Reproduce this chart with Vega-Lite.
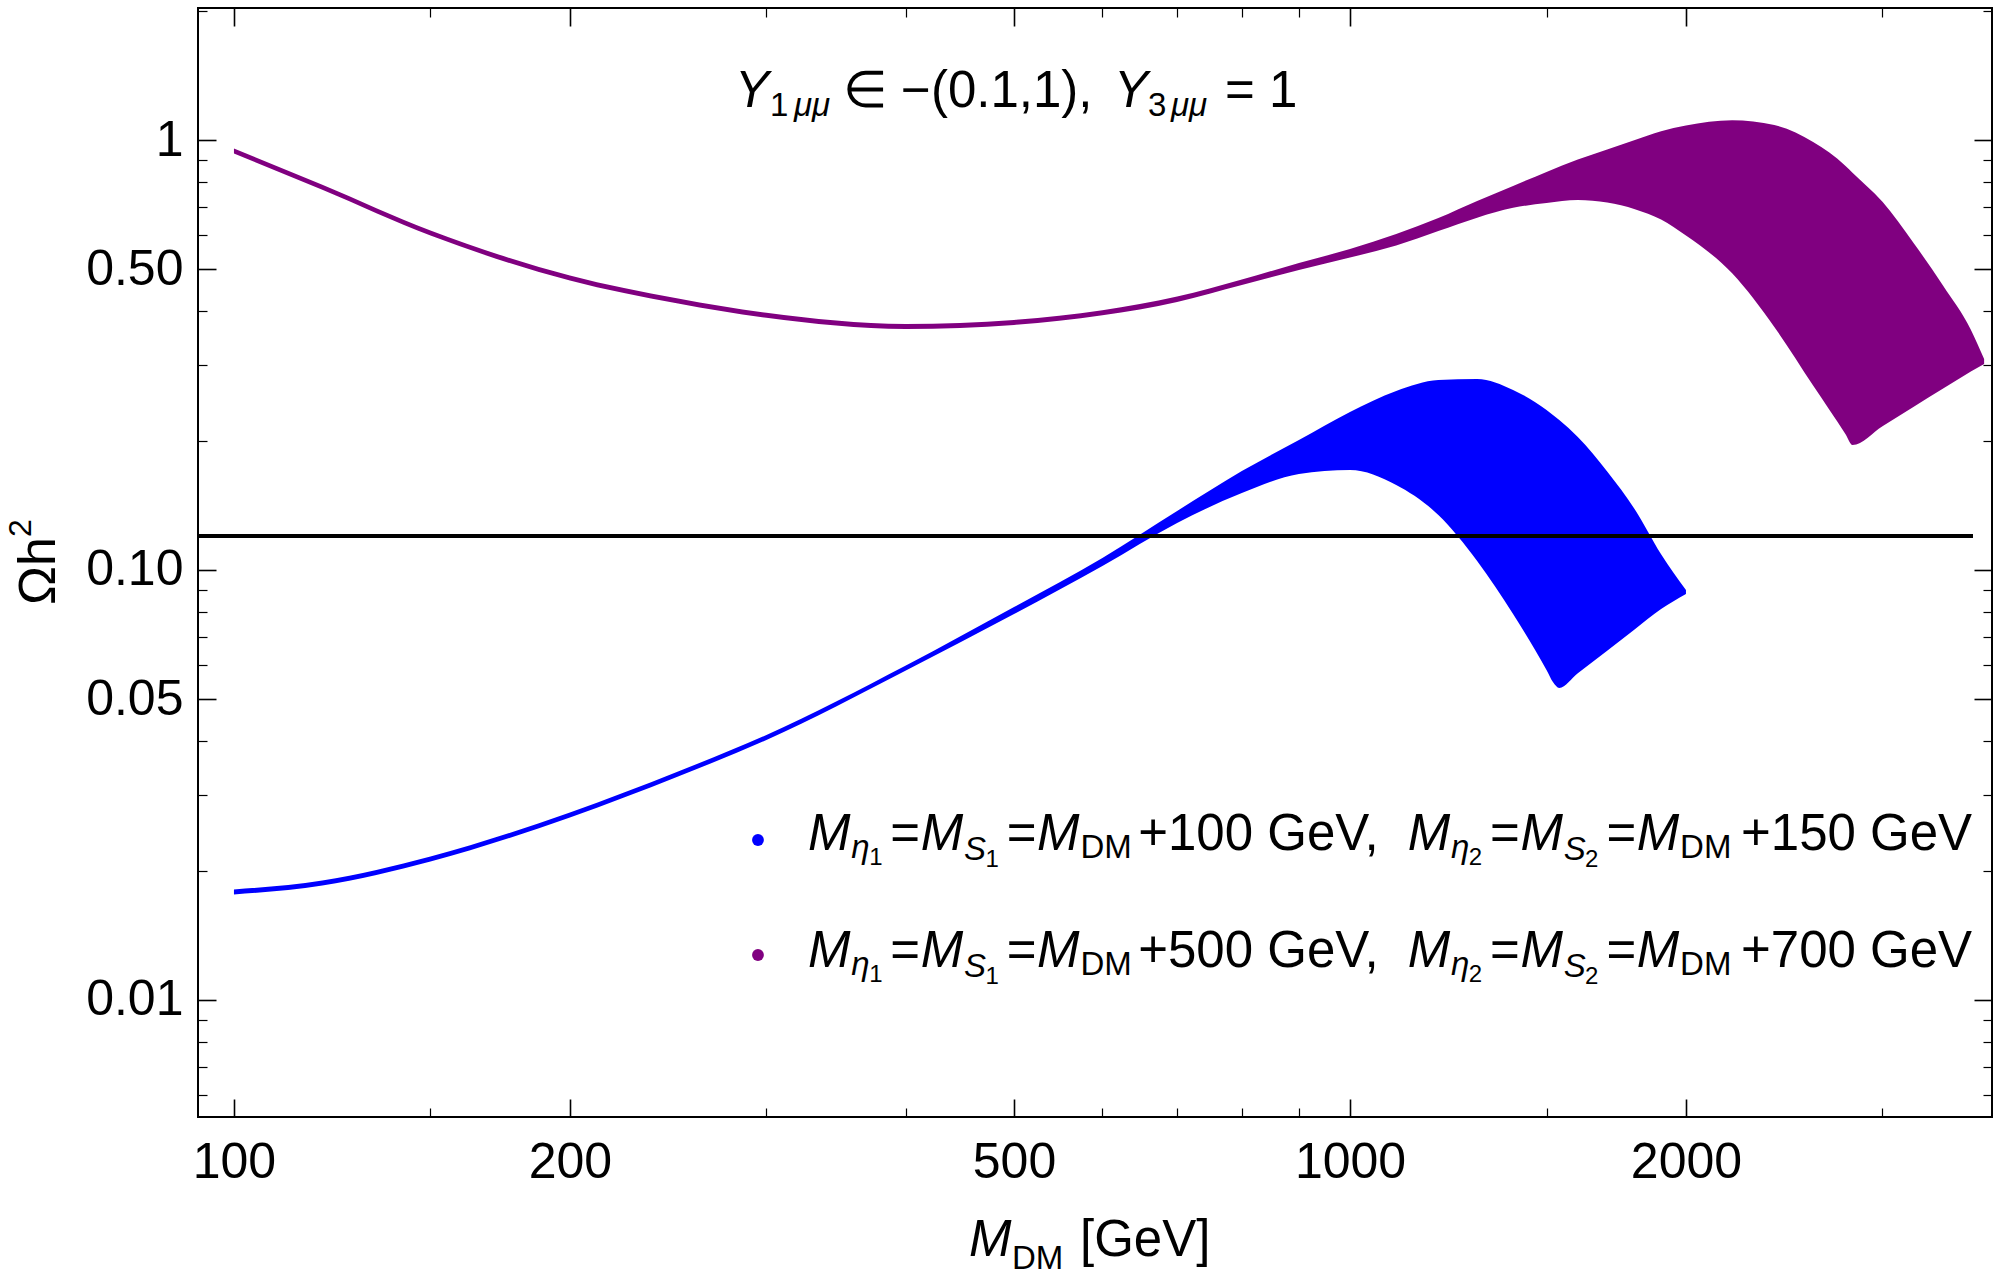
{
  "$schema": "https://vega.github.io/schema/vega-lite/v6.json",
  "description": "Relic density vs dark matter mass for two mass splittings.",
  "width": 1794,
  "height": 1109,
  "autosize": {"type": "none"},
  "padding": {"left": 198, "top": 8, "right": 9, "bottom": 159},
  "background": "white",
  "datasets": {
    "bands": [
      {"s": "dM100", "M": 100, "lo": 0.017592, "hi": 0.018068},
      {"s": "dM100", "M": 120, "lo": 0.018462, "hi": 0.018962},
      {"s": "dM100", "M": 150, "lo": 0.020995, "hi": 0.021565},
      {"s": "dM100", "M": 200, "lo": 0.026573, "hi": 0.027295},
      {"s": "dM100", "M": 250, "lo": 0.033096, "hi": 0.033994},
      {"s": "dM100", "M": 300, "lo": 0.040236, "hi": 0.041328},
      {"s": "dM100", "M": 400, "lo": 0.058392, "hi": 0.059973},
      {"s": "dM100", "M": 500, "lo": 0.0790, "hi": 0.0820},
      {"s": "dM100", "M": 600, "lo": 0.10216, "hi": 0.10664},
      {"s": "dM100", "M": 700, "lo": 0.12860, "hi": 0.13716},
      {"s": "dM100", "M": 800, "lo": 0.15103, "hi": 0.16990},
      {"s": "dM100", "M": 900, "lo": 0.16720, "hi": 0.20061},
      {"s": "dM100", "M": 1000, "lo": 0.17082, "hi": 0.23305},
      {"s": "dM100", "M": 1100, "lo": 0.15763, "hi": 0.26080},
      {"s": "dM100", "M": 1200, "lo": 0.13425, "hi": 0.27660},
      {"s": "dM100", "M": 1300, "lo": 0.10494, "hi": 0.27809},
      {"s": "dM100", "M": 1400, "lo": 0.07900, "hi": 0.26220},
      {"s": "dM100", "M": 1500, "lo": 0.058548, "hi": 0.23556},
      {"s": "dM100", "M": 1520, "lo": 0.054898, "hi": 0.22947},
      {"s": "dM100", "M": 1540, "lo": 0.053170, "hi": 0.22330},
      {"s": "dM100", "M": 1600, "lo": 0.057491, "hi": 0.20386},
      {"s": "dM100", "M": 1700, "lo": 0.064912, "hi": 0.16937},
      {"s": "dM100", "M": 1800, "lo": 0.072806, "hi": 0.13820},
      {"s": "dM100", "M": 1900, "lo": 0.081122, "hi": 0.10877},
      {"s": "dM100", "M": 2000, "lo": 0.087952, "hi": 0.089856},
      {"s": "dM500", "M": 100, "lo": 0.93027, "hi": 0.95550},
      {"s": "dM500", "M": 120, "lo": 0.76628, "hi": 0.78708},
      {"s": "dM500", "M": 150, "lo": 0.59973, "hi": 0.61596},
      {"s": "dM500", "M": 200, "lo": 0.47130, "hi": 0.48407},
      {"s": "dM500", "M": 250, "lo": 0.41661, "hi": 0.42795},
      {"s": "dM500", "M": 300, "lo": 0.38591, "hi": 0.39638},
      {"s": "dM500", "M": 400, "lo": 0.36350, "hi": 0.37336},
      {"s": "dM500", "M": 500, "lo": 0.37154, "hi": 0.38160},
      {"s": "dM500", "M": 600, "lo": 0.39112, "hi": 0.40172},
      {"s": "dM500", "M": 700, "lo": 0.42003, "hi": 0.43256},
      {"s": "dM500", "M": 800, "lo": 0.45999, "hi": 0.47382},
      {"s": "dM500", "M": 900, "lo": 0.49845, "hi": 0.51738},
      {"s": "dM500", "M": 1000, "lo": 0.53284, "hi": 0.55788},
      {"s": "dM500", "M": 1100, "lo": 0.56818, "hi": 0.60448},
      {"s": "dM500", "M": 1200, "lo": 0.61400, "hi": 0.65872},
      {"s": "dM500", "M": 1300, "lo": 0.65961, "hi": 0.72184},
      {"s": "dM500", "M": 1400, "lo": 0.69530, "hi": 0.78205},
      {"s": "dM500", "M": 1500, "lo": 0.71377, "hi": 0.84262},
      {"s": "dM500", "M": 1600, "lo": 0.72534, "hi": 0.90031},
      {"s": "dM500", "M": 1700, "lo": 0.71531, "hi": 0.94990},
      {"s": "dM500", "M": 1800, "lo": 0.69048, "hi": 1.0},
      {"s": "dM500", "M": 1900, "lo": 0.65294, "hi": 1.0477},
      {"s": "dM500", "M": 2000, "lo": 0.59940, "hi": 1.0801},
      {"s": "dM500", "M": 2200, "lo": 0.48978, "hi": 1.1112},
      {"s": "dM500", "M": 2400, "lo": 0.36741, "hi": 1.0835},
      {"s": "dM500", "M": 2600, "lo": 0.26860, "hi": 0.98935},
      {"s": "dM500", "M": 2780, "lo": 0.20694, "hi": 0.87047},
      {"s": "dM500", "M": 2820, "lo": 0.19532, "hi": 0.83946},
      {"s": "dM500", "M": 3000, "lo": 0.21600, "hi": 0.71838},
      {"s": "dM500", "M": 3200, "lo": 0.23963, "hi": 0.57544},
      {"s": "dM500", "M": 3400, "lo": 0.26418, "hi": 0.45827},
      {"s": "dM500", "M": 3600, "lo": 0.28950, "hi": 0.36214},
      {"s": "dM500", "M": 3700, "lo": 0.30136, "hi": 0.30951}
    ],
    "planck": [{"M0": 90, "M1": 3616, "v": 0.12}],
    "keys": [
      {"s": "dM100", "M": 294.8, "v": 0.023556},
      {"s": "dM500", "M": 294.8, "v": 0.012724}
    ],
    "italicMain": [
      {"M": 281.1, "v": 1.1953, "t": "Y"},
      {"M": 614.5, "v": 1.1953, "t": "Y"},
      {"M": 326.84, "v": 0.02233, "t": "M"},
      {"M": 412.5, "v": 0.02233, "t": "M"},
      {"M": 524.3, "v": 0.02233, "t": "M"},
      {"M": 1126.4, "v": 0.02233, "t": "M"},
      {"M": 1421.6, "v": 0.02233, "t": "M"},
      {"M": 1807.1, "v": 0.02233, "t": "M"},
      {"M": 326.84, "v": 0.011934, "t": "M"},
      {"M": 412.5, "v": 0.011934, "t": "M"},
      {"M": 524.3, "v": 0.011934, "t": "M"},
      {"M": 1126.4, "v": 0.011934, "t": "M"},
      {"M": 1421.6, "v": 0.011934, "t": "M"},
      {"M": 1807.1, "v": 0.011934, "t": "M"},
      {"M": 455.6, "v": 0.0025389, "t": "M"}
    ],
    "normalMain": [
      {"M": 351.3, "v": 1.1953, "t": "∈ −(0.1,1),"},
      {"M": 772.7, "v": 1.1953, "t": "= 1"},
      {"M": 387.4, "v": 0.02233, "t": "="},
      {"M": 492.5, "v": 0.02233, "t": "="},
      {"M": 646.0, "v": 0.02233, "t": "+100 GeV,"},
      {"M": 1335.2, "v": 0.02233, "t": "="},
      {"M": 1697.3, "v": 0.02233, "t": "="},
      {"M": 2240.5, "v": 0.02233, "t": "+150 GeV"},
      {"M": 387.4, "v": 0.011934, "t": "="},
      {"M": 492.5, "v": 0.011934, "t": "="},
      {"M": 646.0, "v": 0.011934, "t": "+500 GeV,"},
      {"M": 1335.2, "v": 0.011934, "t": "="},
      {"M": 1697.3, "v": 0.011934, "t": "="},
      {"M": 2240.5, "v": 0.011934, "t": "+700 GeV"},
      {"M": 572.9, "v": 0.0025389, "t": "[GeV]"}
    ],
    "italicSub": [
      {"M": 317.5, "v": 1.1372, "t": "μμ"},
      {"M": 691.2, "v": 1.1372, "t": "μμ"},
      {"M": 357.4, "v": 0.021393, "t": "η"},
      {"M": 451.0, "v": 0.021165, "t": "S"},
      {"M": 1231.6, "v": 0.021393, "t": "η"},
      {"M": 1554.4, "v": 0.021165, "t": "S"},
      {"M": 357.4, "v": 0.011433, "t": "η"},
      {"M": 451.0, "v": 0.011311, "t": "S"},
      {"M": 1231.6, "v": 0.011433, "t": "η"},
      {"M": 1554.4, "v": 0.011311, "t": "S"}
    ],
    "normalSub": [
      {"M": 302.2, "v": 1.1372, "t": "1"},
      {"M": 659.2, "v": 1.1372, "t": "3"},
      {"M": 573.4, "v": 0.021393, "t": "DM"},
      {"M": 1976.0, "v": 0.021393, "t": "DM"},
      {"M": 573.4, "v": 0.011433, "t": "DM"},
      {"M": 1976.0, "v": 0.011433, "t": "DM"},
      {"M": 497.9, "v": 0.0023720, "t": "DM"}
    ],
    "subSub": [
      {"M": 370.8, "v": 0.020597, "t": "1"},
      {"M": 471.3, "v": 0.020386, "t": "1"},
      {"M": 1277.7, "v": 0.020597, "t": "2"},
      {"M": 1624.3, "v": 0.020386, "t": "2"},
      {"M": 370.8, "v": 0.011012, "t": "1"},
      {"M": 471.3, "v": 0.010894, "t": "1"},
      {"M": 1277.7, "v": 0.011012, "t": "2"},
      {"M": 1624.3, "v": 0.010894, "t": "2"}
    ],
    "yTitle": [{"M": 69.12, "v": 0.082917, "t": "Ωh"}],
    "yTitleSup": [{"M": 65.78, "v": 0.11933, "t": "2"}]
  },
  "resolve": {"axis": {"x": "independent", "y": "independent"}},
  "layer": [
    {
      "data": {"name": "bands"},
      "mark": {"type": "area", "interpolate": "monotone", "opacity": 1},
      "encoding": {
        "x": {
          "field": "M", "type": "quantitative",
          "scale": {"type": "log", "domain": [92.85, 3760.6], "nice": false},
          "axis": {
            "orient": "bottom", "values": [100, 200, 500, 1000, 2000],
            "tickSize": -18, "tickWidth": 1.6, "labelPadding": 78,
            "labelBaseline": "alphabetic", "labelFlush": false, "labelOverlap": false,
            "format": "d", "title": null
          }
        },
        "y": {
          "field": "lo", "type": "quantitative",
          "scale": {"type": "log", "domain": [0.005344, 2.0277], "nice": false},
          "axis": {
            "orient": "left", "values": [0.01, 0.05, 0.1, 0.5, 1],
            "tickSize": -18, "tickWidth": 1.6, "labelPadding": 33,
            "labelBaseline": "middle", "labelFlush": false, "labelOverlap": false,
            "labelExpr": "datum.value == 1 ? '1' : format(datum.value, '.2f')",
            "title": null
          }
        },
        "y2": {"field": "hi"},
        "color": {
          "field": "s", "type": "nominal",
          "scale": {"domain": ["dM100", "dM500"], "range": ["#0000ff", "#800080"]},
          "legend": null
        }
      }
    },
    {
      "data": {"name": "planck"},
      "mark": {"type": "rule", "color": "black", "strokeWidth": 4, "clip": true},
      "encoding": {
        "x": {
          "field": "M0", "type": "quantitative",
          "axis": {
            "orient": "bottom", "values": [150, 300, 400, 600, 700, 800, 900, 1500, 3000],
            "tickSize": -9, "tickWidth": 1.2, "labels": false, "title": null
          }
        },
        "x2": {"field": "M1"},
        "y": {
          "field": "v", "type": "quantitative",
          "axis": {
            "orient": "left",
            "values": [0.006, 0.007, 0.008, 0.009, 0.02, 0.03, 0.04, 0.06, 0.07, 0.08, 0.09, 0.2, 0.3, 0.4, 0.6, 0.7, 0.8, 0.9, 2],
            "tickSize": -9, "tickWidth": 1.2, "labels": false, "title": null
          }
        }
      }
    },
    {
      "data": {"name": "keys"},
      "mark": {"type": "point", "filled": true, "size": 140, "opacity": 1},
      "encoding": {
        "x": {
          "field": "M", "type": "quantitative",
          "axis": {
            "orient": "top", "values": [100, 200, 500, 1000, 2000],
            "tickSize": -18, "tickWidth": 1.6, "labels": false, "title": null
          }
        },
        "y": {
          "field": "v", "type": "quantitative",
          "axis": {
            "orient": "right", "values": [0.01, 0.05, 0.1, 0.5, 1],
            "tickSize": -18, "tickWidth": 1.6, "labels": false, "title": null
          }
        },
        "color": {"field": "s", "type": "nominal", "legend": null}
      }
    },
    {
      "data": {"name": "italicMain"},
      "mark": {"type": "text", "align": "left", "baseline": "alphabetic", "fontSize": 51, "fontStyle": "italic"},
      "encoding": {
        "x": {
          "field": "M", "type": "quantitative",
          "axis": {
            "orient": "top", "values": [150, 300, 400, 600, 700, 800, 900, 1500, 3000],
            "tickSize": -9, "tickWidth": 1.2, "labels": false, "title": null
          }
        },
        "y": {
          "field": "v", "type": "quantitative",
          "axis": {
            "orient": "right",
            "values": [0.006, 0.007, 0.008, 0.009, 0.02, 0.03, 0.04, 0.06, 0.07, 0.08, 0.09, 0.2, 0.3, 0.4, 0.6, 0.7, 0.8, 0.9, 2],
            "tickSize": -9, "tickWidth": 1.2, "labels": false, "title": null
          }
        },
        "text": {"field": "t"}
      }
    },
    {
      "data": {"name": "normalMain"},
      "mark": {"type": "text", "align": "left", "baseline": "alphabetic", "fontSize": 51},
      "encoding": {
        "x": {"field": "M", "type": "quantitative", "axis": null},
        "y": {"field": "v", "type": "quantitative", "axis": null},
        "text": {"field": "t"}
      }
    },
    {
      "data": {"name": "italicSub"},
      "mark": {"type": "text", "align": "left", "baseline": "alphabetic", "fontSize": 33, "fontStyle": "italic"},
      "encoding": {
        "x": {"field": "M", "type": "quantitative", "axis": null},
        "y": {"field": "v", "type": "quantitative", "axis": null},
        "text": {"field": "t"}
      }
    },
    {
      "data": {"name": "normalSub"},
      "mark": {"type": "text", "align": "left", "baseline": "alphabetic", "fontSize": 33},
      "encoding": {
        "x": {"field": "M", "type": "quantitative", "axis": null},
        "y": {"field": "v", "type": "quantitative", "axis": null},
        "text": {"field": "t"}
      }
    },
    {
      "data": {"name": "subSub"},
      "mark": {"type": "text", "align": "left", "baseline": "alphabetic", "fontSize": 24},
      "encoding": {
        "x": {"field": "M", "type": "quantitative", "axis": null},
        "y": {"field": "v", "type": "quantitative", "axis": null},
        "text": {"field": "t"}
      }
    },
    {
      "data": {"name": "yTitle"},
      "mark": {"type": "text", "align": "left", "baseline": "alphabetic", "fontSize": 52, "angle": -90},
      "encoding": {
        "x": {"field": "M", "type": "quantitative", "axis": null},
        "y": {"field": "v", "type": "quantitative", "axis": null},
        "text": {"field": "t"}
      }
    },
    {
      "data": {"name": "yTitleSup"},
      "mark": {"type": "text", "align": "left", "baseline": "alphabetic", "fontSize": 32, "angle": -90},
      "encoding": {
        "x": {"field": "M", "type": "quantitative", "axis": null},
        "y": {"field": "v", "type": "quantitative", "axis": null},
        "text": {"field": "t"}
      }
    }
  ],
  "config": {
    "view": {"stroke": "black", "strokeWidth": 2},
    "axis": {
      "grid": false,
      "domain": false,
      "tickColor": "black",
      "labelColor": "black",
      "labelFont": "Liberation Sans",
      "labelFontSize": 50,
      "titleFont": "Liberation Sans",
      "titleFontSize": 50,
      "titleFontWeight": "normal",
      "titleColor": "black"
    },
    "text": {"font": "Liberation Sans", "color": "black"}
  }
}
